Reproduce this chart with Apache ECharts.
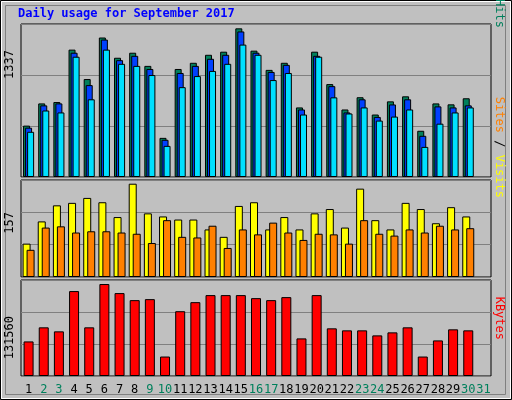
<!DOCTYPE html>
<html><head><meta charset="utf-8">
<script src="https://cdn.jsdelivr.net/npm/echarts@6/dist/echarts.min.js"></script>
<style>body{margin:0;background:#c0c0c0}#chart{width:512px;height:400px}</style>
</head><body><div id="chart"></div>
<script>
// data
var days = [];
for (var d = 1; d <= 31; d++) days.push(String(d));
var weekendDays = ['2','3','9','10','16','17','23','24','30','31'];
var hits  = [449,643,655,1113,856,1219,1042,1086,971,342,944,998,1068,1095,1299,1104,936,998,608,1095,812,590,697,546,661,705,404,643,635,688,null];
var files = [431,626,643,1086,803,1201,1021,1059,944,325,909,971,1033,1068,1272,1086,918,980,590,1059,794,564,679,525,634,679,360,617,608,626,null];
var pages = [395,581,564,1051,679,1113,989,971,891,272,785,882,927,989,1157,1068,847,909,546,1051,696,555,608,493,528,590,263,466,564,608,null];
var visits = [54,90,116,120,128,121,97,151,103,98,93,93,77,65,115,121,77,97,77,103,110,80,143,92,77,120,110,87,113,98,null];
var sites  = [44,80,82,72,74,74,72,70,55,92,65,64,83,47,77,69,88,72,60,70,69,54,92,70,67,77,72,83,77,79,null];
var kbytes = [47380,66700,61180,116380,66700,126040,113620,103960,105340,26680,88780,101200,110860,110860,110860,106720,103960,108100,51520,110860,65320,62560,62560,55660,59800,66700,26680,48760,63940,62560,null];
var maxHits = 1337, maxVisits = 157, maxKB = 131560;

var myChart = echarts.init(document.getElementById('chart'));
var font = 'DejaVu Sans Mono';
var grids = [
    {left: 21, width: 470, top: 24, height: 153},
    {left: 21, width: 470, top: 180, height: 97},
    {left: 21, width: 470, top: 280, height: 96}
];
var maxes = [maxHits, maxVisits, maxKB];

function bar(name, data, idx, color, width, gap) {
    return {
        name: name, type: 'bar', data: data, xAxisIndex: idx, yAxisIndex: idx,
        barWidth: width, barGap: gap, animation: false,
        itemStyle: {color: color, borderColor: '#000', borderWidth: 1}
    };
}

var option = {
    backgroundColor: '#c0c0c0',
    grid: grids.map(function (g) {
        return Object.assign({show: true, borderColor: '#000', borderWidth: 1, backgroundColor: '#c0c0c0'}, g);
    }),
    xAxis: [0, 1, 2].map(function (i) {
        return {
            type: 'category', data: days, gridIndex: i,
            axisLine: {show: false}, axisTick: {show: false},
            axisLabel: i < 2 ? {show: false} : {
                fontFamily: font, fontSize: 12, margin: 8, interval: 0,
                color: function (v) { return weekendDays.indexOf(v) >= 0 ? '#00805c' : '#000'; }
            }
        };
    }),
    yAxis: [0, 1, 2].map(function (i) {
        return {
            type: 'value', gridIndex: i, min: 0, max: maxes[i], interval: maxes[i] / 3,
            axisLabel: {show: false}, axisLine: {show: false}, axisTick: {show: false},
            splitLine: {lineStyle: {color: '#808080', width: 1}}
        };
    }),
    series: [
        bar('Hits', hits, 0, '#00805c', 7, '-71%'),
        bar('Files', files, 0, '#0040ff', 7, '-71%'),
        bar('Pages', pages, 0, '#00e0ff', 7, '-71%'),
        bar('Visits', visits, 1, '#ffff00', 8, '-50%'),
        bar('Sites', sites, 1, '#ff8000', 8, '-50%'),
        bar('KBytes', kbytes, 2, '#ff0000', 10, '0%')
    ],
    graphic: [
        {type: 'rect', shape: {x: 0.5, y: 0.5, width: 511, height: 399}, style: {fill: 'none', stroke: '#000'}},
        {type: 'rect', shape: {x: 1.5, y: 1.5, width: 509, height: 397}, style: {fill: 'none', stroke: '#fff'}},
        {type: 'rect', shape: {x: 5.5, y: 5.5, width: 500, height: 389}, style: {fill: 'none', stroke: '#808080'}},
        {type: 'text', left: 18, top: 8, style: {text: 'Daily usage for September 2017', fill: '#0000ff', font: 'bold 12px "DejaVu Sans Mono"'}},
        {type: 'text', x: 10, y: 50, rotation: Math.PI / 2, style: {text: '1337', fill: '#000', font: '12px "DejaVu Sans Mono"', align: 'right', verticalAlign: 'middle'}},
        {type: 'text', x: 10, y: 212, rotation: Math.PI / 2, style: {text: '157', fill: '#000', font: '12px "DejaVu Sans Mono"', align: 'right', verticalAlign: 'middle'}},
        {type: 'text', x: 10, y: 316, rotation: Math.PI / 2, style: {text: '131560', fill: '#000', font: '12px "DejaVu Sans Mono"', align: 'right', verticalAlign: 'middle'}},
        {type: 'text', x: 499, y: 28, rotation: -Math.PI / 2, style: {
            text: '{p|Pages} / {f|Files} / {h|Hits}', align: 'right', verticalAlign: 'middle',
            font: '12px "DejaVu Sans Mono"', fill: '#000',
            rich: {p: {fill: '#00e0ff', font: '12px "DejaVu Sans Mono"'}, f: {fill: '#0040ff', font: '12px "DejaVu Sans Mono"'}, h: {fill: '#00805c', font: '12px "DejaVu Sans Mono"'}}
        }},
        {type: 'text', x: 499, y: 198, rotation: -Math.PI / 2, style: {
            text: '{s|Sites} / {v|Visits}', align: 'right', verticalAlign: 'middle',
            font: '12px "DejaVu Sans Mono"', fill: '#000',
            rich: {s: {fill: '#ff8000', font: '12px "DejaVu Sans Mono"'}, v: {fill: '#ffff00', font: '12px "DejaVu Sans Mono"'}}
        }},
        {type: 'text', x: 499, y: 340, rotation: -Math.PI / 2, style: {text: 'KBytes', fill: '#ff0000', font: '12px "DejaVu Sans Mono"', align: 'right', verticalAlign: 'middle'}}
    ]
};
myChart.setOption(option);
</script>
</body></html>
